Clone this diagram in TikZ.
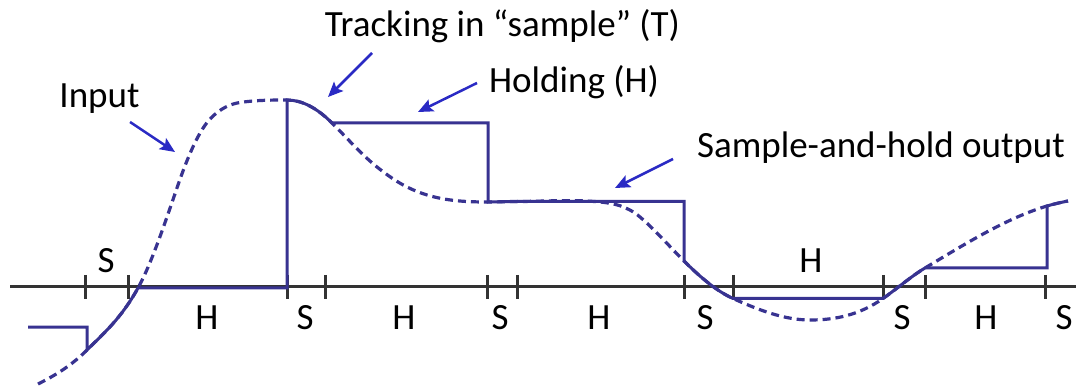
\documentclass[tikz,border=0pt]{standalone}
\usepackage{fontspec}
\setmainfont{Carlito}
\usetikzlibrary{arrows.meta}
\definecolor{sig}{RGB}{56,51,145}
\definecolor{arr}{RGB}{42,42,196}
\definecolor{axc}{RGB}{51,51,51}
\tikzset{
  lbl/.style={font=\fontsize{37}{42}\selectfont, inner sep=0pt, anchor=base, text=black},
  axisline/.style={draw=axc, line width=3pt},
  tickmark/.style={draw=axc, line width=3pt},
  inputsig/.style={draw=sig, line width=3.2pt, dash pattern=on 8pt off 5pt},
  outsig/.style={draw=sig, line width=3pt},
  callout/.style={draw=arr, line width=2.5pt, -{Stealth[length=15pt,width=13pt,inset=3pt]}},
}
\begin{document}
\begin{tikzpicture}[x=1pt,y=-1pt]
\useasboundingbox (0,0) rectangle (1076,387);
% axis
\coordinate (axL) at (10,287);
\coordinate (axR) at (1076,287);
\draw[axisline] (axL) -- (axR);
\foreach \t in {85,128,287,325,487,517,684,733,883,925,1045}
  \draw[tickmark] (\t,275) -- (\t,299);
% input (dashed)
\draw[inputsig] (38,384) .. controls (54.3,375.8) and (70.7,366.3) .. (87,350)
  .. controls (104,333) and (121,318.6) .. (138,288)
  .. controls (151.3,264) and (164.7,223.7) .. (178,185)
  .. controls (189,153.1) and (200,129) .. (211,118)
  .. controls (220.7,108.3) and (230.3,103.95) .. (240,102.5)
  .. controls (255.7,100.15) and (271.3,100) .. (287,100)
  .. controls (302,100) and (317,108) .. (332,123)
  .. controls (347,138) and (362,155) .. (377,167)
  .. controls (387,175) and (397,182) .. (407,187)
  .. controls (434,200.5) and (461,202) .. (488,202)
  .. controls (497.7,202) and (507.3,201.5) .. (517,201.5)
  .. controls (544.7,201.5) and (572.3,199.2) .. (600,202)
  .. controls (613.3,203.3) and (626.7,205.7) .. (640,217)
  .. controls (654.7,229.5) and (669.3,246.3) .. (684,261)
  .. controls (700.3,277.3) and (716.7,291.15) .. (733,298.5)
  .. controls (758.7,310) and (784.3,320) .. (810,320)
  .. controls (834.3,320) and (858.7,315.5) .. (883,298.5)
  .. controls (897,288.7) and (911,276.4) .. (925,268)
  .. controls (965.7,243.6) and (1006.3,218.2) .. (1047,206)
  .. controls (1054,203.9) and (1061,202.4) .. (1068,201);
% sample-and-hold output (solid)
\draw[outsig] (28,327) -- (87,327) -- (87,350)
  .. controls (104,333) and (121,318.6) .. (138,288) -- (287,288) -- (287,100)
  .. controls (302,100) and (317,108) .. (332,123) -- (488,123) -- (488,202)
  .. controls (497.7,202) and (507.3,201.5) .. (517,201.5) -- (684,201.5) -- (684,261)
  .. controls (700.3,277.3) and (716.7,291.15) .. (733,298.5) -- (883,298.5)
  .. controls (897,288.7) and (911,276.4) .. (925,268) -- (1047,268) -- (1047,206)
  .. controls (1054,203.9) and (1061,202.4) .. (1068,201);
% phase labels
\node[lbl] (s1) at (106,273) {S};
\node[lbl] (h1) at (207,330) {H};
\node[lbl] (s2) at (305,330) {S};
\node[lbl] (h2) at (404,330) {H};
\node[lbl] (s3) at (500,330) {S};
\node[lbl] (h3) at (599,330) {H};
\node[lbl] (s4) at (705,330) {S};
\node[lbl] (h4) at (811,273) {H};
\node[lbl] (s5) at (902,330) {S};
\node[lbl] (h5) at (986,330) {H};
\node[lbl] (s6) at (1064,330) {S};
% callout labels
\node[lbl] (tInput) at (99.5,108) {Input};
\node[lbl] (tTrack) at (502.5,37) {Tracking in “sample” (T)};
\node[lbl] (tHold) at (574,93) {Holding (H)};
\node[lbl] (tSH) at (881,158) {Sample-and-hold output};
% callout arrows
\coordinate (aIn1) at (130,122);  \coordinate (aIn2) at (175,152);
\coordinate (aTr1) at (372,53);   \coordinate (aTr2) at (328,97);
\coordinate (aHo1) at (477,83);   \coordinate (aHo2) at (418,112);
\coordinate (aSH1) at (673,159);  \coordinate (aSH2) at (615,188);
\draw[callout] (aIn1) -- (aIn2);
\draw[callout] (aTr1) -- (aTr2);
\draw[callout] (aHo1) -- (aHo2);
\draw[callout] (aSH1) -- (aSH2);
\end{tikzpicture}
\end{document}
